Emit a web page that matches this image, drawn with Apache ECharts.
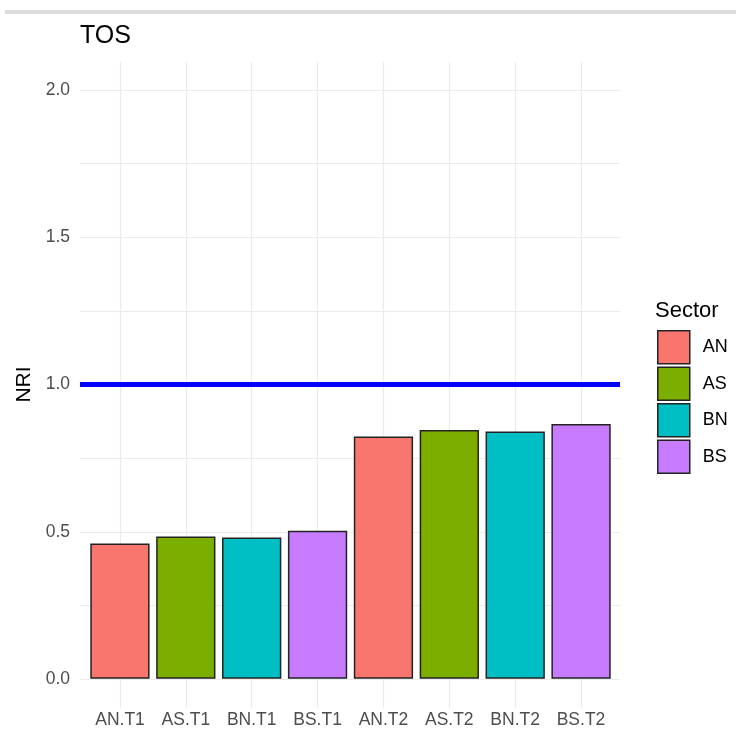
<!DOCTYPE html>
<html>
<head>
<meta charset="utf-8">
<script src="https://cdn.jsdelivr.net/npm/echarts@6/dist/echarts.min.js"></script>
<style>
    html, body { margin: 0; padding: 0; background: #fff; }
    #main { width: 736px; height: 734px; }
</style>
</head>
<body>
<div id="main"></div>
<script>
var categories = ['AN.T1', 'AS.T1', 'BN.T1', 'BS.T1', 'AN.T2', 'AS.T2', 'BN.T2', 'BS.T2'];
var sectorOf = ['AN', 'AS', 'BN', 'BS', 'AN', 'AS', 'BN', 'BS'];
var nriValues = [0.460, 0.484, 0.481, 0.504, 0.825, 0.847, 0.842, 0.867];
var sectors = ['AN', 'AS', 'BN', 'BS'];
var sectorColors = ['#F8766D', '#7CAE00', '#00BFC4', '#C77CFF'];
var refValue = 1.0;

var font = 'Liberation Sans';
var myChart = echarts.init(document.getElementById('main'));

// one series per sector, others left empty so the legend works
var barSeries = sectors.map(function (s, i) {
    return {
        name: s,
        type: 'bar',
        xAxisIndex: 1,
        yAxisIndex: 1,
        barWidth: '90%',
        barGap: '-100%',
        itemStyle: {color: sectorColors[i], borderColor: '#222', borderWidth: 1.5},
        data: nriValues.map(function (v, k) {
            return sectorOf[k] === s ? v : '-';
        })
    };
});

var option = {
    animation: false,
    textStyle: {fontFamily: font},
    title: [
        {text: 'TOS', left: 75, top: 19, textStyle: {fontFamily: font, fontSize: 25, fontWeight: 'normal', color: '#000'}},
        {text: 'Sector', left: 650, top: 295, textStyle: {fontFamily: font, fontSize: 22, fontWeight: 'normal', color: '#000'}}
    ],
    graphic: [
        {type: 'rect', shape: {x: 5, y: 10, width: 731, height: 4}, style: {fill: '#dcdcdc'}, silent: true}
    ],
    legend: {
        orient: 'vertical',
        left: 652,
        top: 325,
        itemWidth: 32,
        itemHeight: 33,
        itemGap: 2,
        icon: 'rect',
        data: sectors,
        itemStyle: {borderColor: '#222', borderWidth: 1.5},
        textStyle: {fontFamily: font, fontSize: 18, color: '#000', padding: [0, 0, 0, 8]}
    },
    grid: [
        // horizontal grid lines, y labels
        {left: 80, right: 116, top: 90, bottom: 55},
        // bars
        {left: 87, right: 122, top: 62, bottom: 26},
        // vertical grid lines, x labels
        {left: 120, right: 155, top: 62, bottom: 26}
    ],
    xAxis: [
        {gridIndex: 0, type: 'value', min: 0, max: 1, show: false},
        {gridIndex: 1, type: 'category', data: categories, show: false},
        {
            gridIndex: 2, type: 'category', data: categories, boundaryGap: false,
            axisLine: {show: false}, axisTick: {show: false},
            axisLabel: {interval: 0, fontFamily: font, fontSize: 17.5, color: '#4d4d4d', margin: 3},
            splitLine: {show: true, interval: 0, lineStyle: {color: '#ebebeb', width: 1.2}}
        }
    ],
    yAxis: [
        {
            gridIndex: 0, type: 'value', min: 0, max: 2, interval: 0.25,
            name: 'NRI', nameLocation: 'middle', nameGap: 42, nameRotate: 90,
            nameTextStyle: {fontFamily: font, fontSize: 21, color: '#000'},
            axisLine: {show: false}, axisTick: {show: false},
            axisLabel: {
                fontFamily: font, fontSize: 17.5, color: '#4d4d4d', margin: 10,
                formatter: function (v) {
                    return Math.abs(v * 2 - Math.round(v * 2)) < 1e-6 ? v.toFixed(1) : '';
                }
            },
            splitLine: {show: true, lineStyle: {color: '#ebebeb', width: 1.2}}
        },
        {gridIndex: 1, type: 'value', min: -0.1, max: 2.1, show: false, splitLine: {show: false}},
        {gridIndex: 2, type: 'value', min: 0, max: 1, show: false, splitLine: {show: false}}
    ],
    series: barSeries.concat([
        {
            name: 'ref',
            type: 'line',
            xAxisIndex: 0,
            yAxisIndex: 0,
            data: [],
            silent: true,
            markLine: {
                silent: true,
                symbol: 'none',
                label: {show: false},
                lineStyle: {color: '#0000ff', width: 5, type: 'solid'},
                data: [{yAxis: refValue}]
            }
        }
    ])
};

myChart.setOption(option);
</script>
</body>
</html>
